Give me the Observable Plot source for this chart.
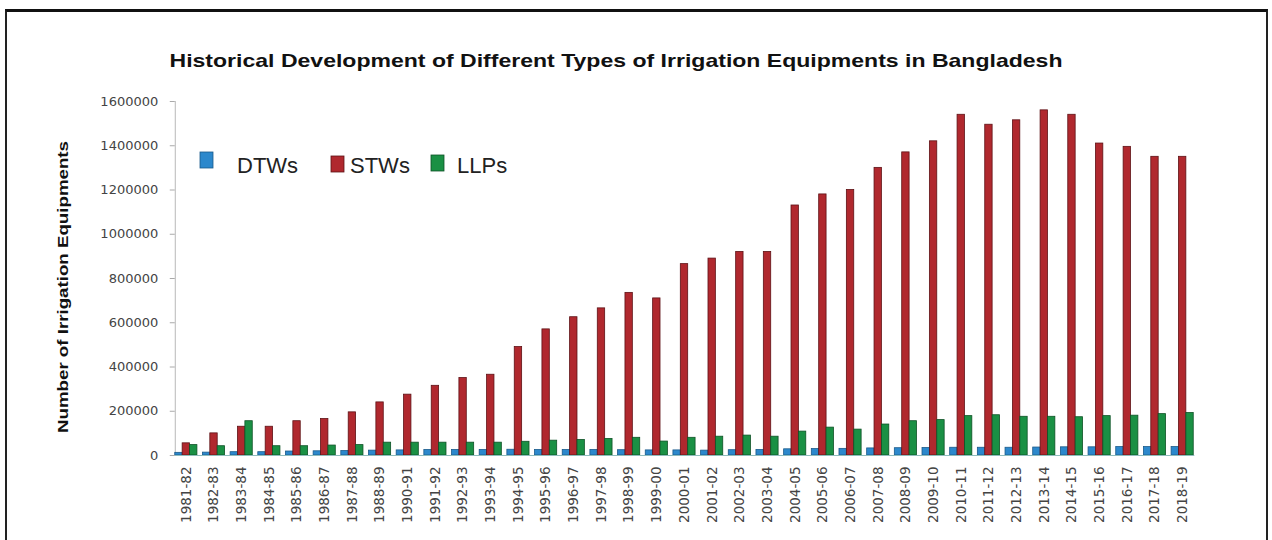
<!DOCTYPE html>
<html>
<head>
<meta charset="utf-8">
<script src="https://cdn.jsdelivr.net/npm/d3@7"></script>
<script src="https://cdn.jsdelivr.net/npm/@observablehq/plot@0.6"></script>
<style>
  html, body { margin: 0; padding: 0; background: #fff; overflow: hidden; }
  #wrap { position: relative; width: 1272px; height: 540px; overflow: hidden; }
  #chart { position: absolute; left: 0; top: 0; }
  #border { position: absolute; left: 5px; top: 9px; width: 1259px; height: 560px;
            border-top: 3px solid #111; border-left: 2px solid #222; border-right: 2px solid #222; }
  #overlay { position: absolute; left: 0; top: 0; pointer-events: none; }
</style>
</head>
<body>
<div id="wrap">
  <div id="border"></div>
  <div id="chart"></div>
  <svg id="overlay" width="1272" height="540"></svg>
</div>
<script>
const years = ["1981-82","1982-83","1983-84","1984-85","1985-86","1986-87","1987-88","1988-89",
  "1990-91","1991-92","1992-93","1993-94","1994-95","1995-96","1996-97","1997-98","1998-99",
  "1999-00","2000-01","2001-02","2002-03","2003-04","2004-05","2005-06","2006-07","2007-08",
  "2008-09","2009-10","2010-11","2011-12","2012-13","2013-14","2014-15","2015-16","2016-17",
  "2017-18","2018-19"];
const dtws = [12000,13000,15000,15000,18000,19000,20000,22000,23000,25000,25000,25000,26000,
  25000,25000,25000,24000,23000,23000,22000,24000,25000,28000,29000,30000,32000,33000,34000,
  35000,35000,35000,36000,37000,37000,38000,38000,38000];
const stws = [55000,100000,130000,130000,155000,165000,195000,240000,275000,315000,350000,365000,
  490000,570000,625000,665000,735000,710000,865000,890000,920000,920000,1130000,1180000,1200000,
  1300000,1370000,1420000,1540000,1495000,1515000,1560000,1540000,1410000,1395000,1350000,1350000];
const llps = [47000,42000,155000,42000,42000,45000,47000,58000,58000,58000,58000,58000,62000,
  67000,70000,75000,80000,63000,80000,85000,90000,85000,108000,126000,117000,140000,155000,
  160000,178000,182000,175000,175000,173000,178000,180000,187000,192000];
const series = ["DTWs","STWs","LLPs"];
const fills = ["#2c88cc","#b0282e","#1a9044"];
const strokes = ["#1b5a8a","#5e1216","#0e5226"];
const yTicks = [0,200000,400000,600000,800000,1000000,1200000,1400000,1600000];
const title = "Historical Development of Different Types of Irrigation Equipments in Bangladesh";
const yLabel = "Number of Irrigation Equipments";

const data = years.flatMap((yr, i) => [
  {year: yr, type: series[0], value: dtws[i]},
  {year: yr, type: series[1], value: stws[i]},
  {year: yr, type: series[2], value: llps[i]}
]);

const chart = Plot.plot({
  width: 1272,
  height: 540,
  marginLeft: 172,
  marginRight: 76,
  marginTop: 101,
  marginBottom: 85,
  style: {fontFamily: "DejaVu Sans", background: "transparent"},
  fx: {domain: years, paddingInner: 0.2, paddingOuter: 0.1, round: false, label: null},
  x: {domain: series, padding: 0, round: false, axis: null},
  y: {domain: [0, 1600000], label: null},
  color: {domain: series, range: fills},
  marks: [
    Plot.frame({anchor: "left", facet: "super", stroke: "#b8b8b8"}),
    Plot.barY(data, {fx: "year", x: "type", y: "value", fill: "type",
      stroke: d => strokes[series.indexOf(d.type)], strokeWidth: 0.8}),
    Plot.frame({anchor: "bottom", facet: "super", stroke: "#8fbcbc", strokeWidth: 1.2}),
    Plot.axisY({ticks: yTicks, tickFormat: d => String(d), tickSize: 5, tickPadding: 12,
      fontSize: 13, stroke: "#aaa", fill: "#444", label: null}),
    Plot.axisFx({anchor: "bottom", tickRotate: -90, tickSize: 0, tickPadding: 11, fontSize: 13.5,
      fill: "#444", label: null})
  ]
});
document.getElementById("chart").appendChild(chart);

// Overlay text: title, y-axis label, legend
const ov = d3.select("#overlay");
ov.append("text").attr("x", 616).attr("y", 67).attr("text-anchor", "middle")
  .attr("font-family", "Liberation Sans").attr("font-weight", "bold").attr("font-size", 18.5)
  .attr("fill", "#111").attr("textLength", 893).attr("lengthAdjust", "spacingAndGlyphs")
  .text(title);
ov.append("text").attr("transform", "translate(68,287) rotate(-90)").attr("text-anchor", "middle")
  .attr("font-family", "Liberation Sans").attr("font-weight", "bold").attr("font-size", 15.5)
  .attr("fill", "#111").attr("textLength", 292).attr("lengthAdjust", "spacingAndGlyphs")
  .text(yLabel);

const legendItems = [
  {sx: 200, sy: 152, tx: 237},
  {sx: 331, sy: 156, tx: 350},
  {sx: 431, sy: 155, tx: 457}
];
legendItems.forEach((it, i) => {
  ov.append("rect").attr("x", it.sx).attr("y", it.sy).attr("width", 13).attr("height", 16)
    .attr("fill", fills[i]).attr("stroke", strokes[i]).attr("stroke-width", 0.8);
  ov.append("text").attr("x", it.tx).attr("y", 173)
    .attr("font-family", "Liberation Sans").attr("font-size", 22).attr("fill", "#222")
    .text(series[i]);
});
</script>
</body>
</html>
